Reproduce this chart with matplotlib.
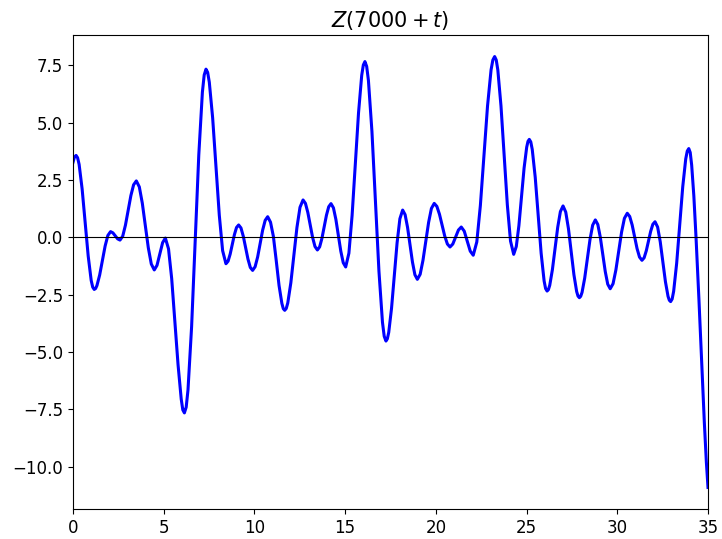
import matplotlib
matplotlib.use("Agg")
import matplotlib.pyplot as plt

# Values: t offset and Z(7000 + t)
t_values = [
    0.00, 0.08, 0.17, 0.253,
    0.337, 0.503, 0.67, 0.837, 1.003, 1.087, 1.17, 1.245,
    1.32, 1.47, 1.62, 1.77, 1.92, 2.07,
    2.20, 2.33, 2.46, 2.59,
    2.74, 2.89, 3.04, 3.19, 3.34, 3.49,
    3.655, 3.82, 3.985, 4.15, 4.315, 4.48,
    4.63, 4.785, 4.94, 5.09,
    5.265, 5.44, 5.615, 5.79, 5.965, 6.0525, 6.14, 6.239,
    6.338, 6.537, 6.735, 6.933, 7.132, 7.231, 7.33, 7.422,
    7.513, 7.697, 7.88, 8.063, 8.247, 8.43,
    8.547, 8.663, 8.78, 8.897, 9.013, 9.13,
    9.258, 9.387, 9.515, 9.643, 9.772, 9.90,
    10.038, 10.177, 10.315, 10.453, 10.592, 10.73,
    10.887, 11.043, 11.20, 11.357, 11.513, 11.592, 11.67, 11.754,
    11.838, 12.007, 12.175, 12.343, 12.512, 12.68,
    12.812, 12.943, 13.075, 13.207, 13.338, 13.47,
    13.595, 13.72, 13.845, 13.97, 14.095, 14.22,
    14.355, 14.49, 14.625, 14.76, 14.895, 15.03,
    15.207, 15.383, 15.56, 15.737, 15.913, 16.002, 16.09, 16.187,
    16.283, 16.477, 16.67, 16.863, 17.057, 17.153, 17.25, 17.327,
    17.403, 17.557, 17.71, 17.863, 18.017, 18.17,
    18.305, 18.44, 18.575, 18.71, 18.845, 18.98,
    19.135, 19.29, 19.445, 19.60, 19.755, 19.91,
    20.055, 20.20, 20.345, 20.49, 20.635, 20.78,
    20.935, 21.09, 21.245, 21.40,
    21.565, 21.73, 21.895, 22.06,
    22.257, 22.453, 22.65, 22.847, 23.043, 23.142, 23.24, 23.328,
    23.415, 23.59, 23.765, 23.94, 24.115, 24.29,
    24.433, 24.577, 24.72, 24.863, 25.007, 25.078, 25.15, 25.232,
    25.313, 25.477, 25.64, 25.803, 25.967, 26.048, 26.13, 26.203,
    26.277, 26.423, 26.57, 26.717, 26.863, 27.01,
    27.16, 27.31, 27.46, 27.61, 27.76, 27.835, 27.91, 27.983,
    28.057, 28.203, 28.35, 28.497, 28.643, 28.79,
    28.927, 29.063, 29.20, 29.337, 29.473, 29.61,
    29.767, 29.923, 30.08, 30.237, 30.393, 30.55,
    30.685, 30.82, 30.955, 31.09, 31.225, 31.36,
    31.48, 31.60, 31.72, 31.84, 31.96, 32.08,
    32.223, 32.367, 32.51, 32.653, 32.797, 32.868, 32.94, 33.023,
    33.107, 33.273, 33.44, 33.607, 33.773, 33.857, 33.94, 34.02,
    34.10, 34.22, 34.34, 34.50, 34.65, 34.80, 34.91, 35.00,
]
z_values = [
    3.27, 3.50, 3.57, 3.47,
    3.18, 2.11, 0.65, -0.81, -1.88, -2.17, -2.27, -2.23,
    -2.10, -1.64, -1.01, -0.38, 0.08, 0.25,
    0.196, 0.065, -0.066, -0.12,
    0.05, 0.53, 1.17, 1.82, 2.29, 2.46,
    2.20, 1.49, 0.52, -0.45, -1.16, -1.42,
    -1.22, -0.725, -0.23, -0.03,
    -0.50, -1.80, -3.65, -5.55, -7.05, -7.52, -7.65, -7.40,
    -6.65, -3.90, -0.16, 3.59, 6.33, 7.075, 7.33, 7.19,
    6.76, 5.21, 3.09, 0.97, -0.58, -1.15,
    -1.04, -0.73, -0.305, 0.12, 0.43, 0.54,
    0.41, 0.045, -0.45, -0.945, -1.31, -1.44,
    -1.28, -0.855, -0.27, 0.315, 0.74, 0.90,
    0.66, 0.05, -1.00, -2.10, -2.88, -3.11, -3.18, -3.10,
    -2.86, -1.98, -0.775, 0.43, 1.31, 1.63,
    1.48, 1.085, 0.54, -0.005, -0.40, -0.55,
    -0.415, -0.045, 0.46, 0.965, 1.335, 1.47,
    1.285, 0.78, 0.09, -0.60, -1.105, -1.29,
    -0.69, 0.95, 3.185, 5.42, 7.06, 7.51, 7.66, 7.45,
    6.84, 4.615, 1.57, -1.475, -3.70, -4.31, -4.52, -4.42,
    -4.14, -3.09, -1.665, -0.24, 0.81, 1.19,
    0.99, 0.435, -0.32, -1.075, -1.63, -1.83,
    -1.61, -1.00, -0.175, 0.65, 1.26, 1.48,
    1.35, 1.005, 0.53, 0.055, -0.29, -0.42,
    -0.29, 0.015, 0.32, 0.45,
    0.27, -0.165, -0.60, -0.78,
    -0.20, 1.385, 3.55, 5.715, 7.30, 7.73, 7.88, 7.73,
    7.30, 5.725, 3.57, 1.415, -0.16, -0.74,
    -0.40, 0.51, 1.765, 3.02, 3.93, 4.185, 4.27, 4.16,
    3.83, 2.62, 0.965, -0.69, -1.90, -2.23, -2.34, -2.28,
    -2.09, -1.41, -0.485, 0.44, 1.12, 1.37,
    1.10, 0.37, -0.63, -1.63, -2.36, -2.56, -2.63, -2.57,
    -2.40, -1.78, -0.935, -0.09, 0.53, 0.76,
    0.56, 0.01, -0.74, -1.49, -2.04, -2.24,
    -2.02, -1.42, -0.595, 0.23, 0.83, 1.05,
    0.91, 0.54, 0.025, -0.49, -0.86, -1.00,
    -0.89, -0.58, -0.16, 0.26, 0.57, 0.68,
    0.45, -0.19, -1.06, -1.93, -2.57, -2.74, -2.80, -2.69,
    -2.35, -1.13, 0.535, 2.20, 3.42, 3.76, 3.87, 3.70,
    3.15, 1.80, 0.00, -2.70, -5.40, -8.10, -9.80, -10.90,
]
assert len(t_values) == len(z_values)
x_limits = (0, 35)
title_text = r"$Z(7000 + t)$"

fig = plt.figure(figsize=(7.22, 5.39), dpi=100)
ax = fig.add_axes([73 / 722, 1 - 509 / 539, (708 - 73) / 722, (509 - 35) / 539])
ax.plot(t_values, z_values, color="blue", lw=2.2, solid_joinstyle="round")
ax.axhline(0, color="black", lw=0.8)
ax.set_xlim(*x_limits)
ax.set_title(title_text, fontsize=15)
ax.tick_params(labelsize=12)
fig.savefig("out.png", dpi=100)
